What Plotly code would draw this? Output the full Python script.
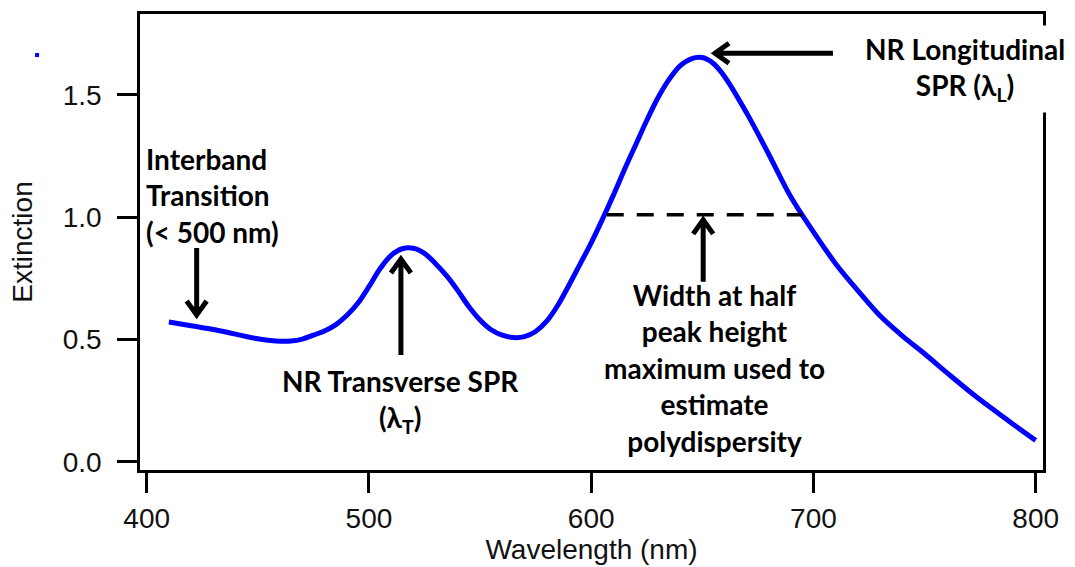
import plotly.graph_objects as go

# Extinction spectrum of gold nanorods
wavelength = [410, 420, 430, 440, 450, 455, 460, 465, 470, 475, 480, 485, 490,
              495, 500, 505, 510, 515, 520, 525, 530, 535, 540, 545, 550, 555,
              560, 565, 570, 575, 580, 585, 590, 595, 600, 605, 610, 615, 620,
              625, 630, 635, 640, 645, 650, 655, 660, 670, 680, 690, 700, 710,
              720, 730, 740, 750, 760, 770, 780, 790, 800]
extinction = [0.572, 0.556, 0.541, 0.522, 0.503, 0.497, 0.493, 0.494, 0.502,
              0.518, 0.535, 0.560, 0.598, 0.648, 0.716, 0.789, 0.844, 0.871,
              0.873, 0.852, 0.810, 0.760, 0.700, 0.634, 0.580, 0.540, 0.518,
              0.508, 0.512, 0.533, 0.575, 0.640, 0.722, 0.808, 0.895, 0.990,
              1.090, 1.195, 1.295, 1.395, 1.487, 1.562, 1.618, 1.647, 1.652,
              1.628, 1.575, 1.425, 1.255, 1.080, 0.940, 0.810, 0.700, 0.597,
              0.515, 0.442, 0.365, 0.290, 0.220, 0.153, 0.088]

# Width-at-half-maximum marker
fwhm_x = [607, 695]
fwhm_y = [1.01, 1.01]

x_ticks = [400, 500, 600, 700, 800]
y_ticks = [0.0, 0.5, 1.0, 1.5]

LABEL_FONT = dict(family="Lato", size=28, color="black")
AXIS_FONT = dict(family="Liberation Sans, Arial", size=28, color="#111111")

fig = go.Figure()
fig.add_trace(go.Scatter(
    x=wavelength, y=extinction, mode="lines",
    line=dict(color="#0000ff", width=5, shape="spline", smoothing=1.0),
    showlegend=False, hoverinfo="skip"))
fig.add_trace(go.Scatter(
    x=fwhm_x, y=fwhm_y, mode="lines",
    line=dict(color="black", width=3.5, dash="17px,13px"),
    showlegend=False, hoverinfo="skip"))


def arrow_path(direction, length, half=10, depth=14):
    """Shaft plus open chevron head, in pixels relative to the tip."""
    if direction == "down":      # tail above the tip
        return (f"M0,{length} L0,3 M{-half},{depth} L0,0 L{half},{depth}")
    if direction == "up":        # tail below the tip
        return (f"M0,{-length} L0,-3 M{-half},{-depth} L0,0 L{half},{-depth}")
    if direction == "left":      # tail to the right of the tip
        return (f"M{length},0 L3,0 M{depth},{half} L0,0 L{depth},{-half}")
    raise ValueError(direction)


# (tip wavelength, tip extinction, pointing direction, shaft length in px)
arrows = [
    (422.5, 0.600, "down", 67),   # interband
    (514.4, 0.829, "up", 96),     # transverse peak
    (655.7, 1.670, "left", 118),  # longitudinal peak
    (650.4, 0.989, "up", 62),     # half-height line
]
for tx, ty, direction, length in arrows:
    fig.add_shape(
        type="path", xref="x", yref="y", xsizemode="pixel",
        ysizemode="pixel", xanchor=tx, yanchor=ty,
        path=arrow_path(direction, length),
        line=dict(color="black", width=5))

fig.add_annotation(
    x=399, y=1.087, xref="x", yref="y", xanchor="left", yanchor="middle",
    align="left", showarrow=False, font=LABEL_FONT,
    text="<b>Interband<br>Transition<br>(&lt; 500 nm)</b>")
fig.add_annotation(
    x=514.3, y=0.247, xref="x", yref="y", xanchor="center", yanchor="middle",
    align="center", showarrow=False, font=LABEL_FONT,
    text="<b>NR Transverse SPR<br>(λ<sub>T</sub>)</b>")
fig.add_annotation(
    x=768.2, y=1.607, xref="x", yref="y", xanchor="center", yanchor="middle",
    align="center", showarrow=False, font=LABEL_FONT,
    bgcolor="white", borderpad=6,
    text="<b>NR Longitudinal<br>SPR (λ<sub>L</sub>)</b>")
fig.add_annotation(
    x=655.7, y=0.383, xref="x", yref="y", xanchor="center", yanchor="middle",
    align="center", showarrow=False, font=LABEL_FONT,
    text="<b>Width at half<br>peak height<br>maximum used to<br>estimate<br>polydispersity</b>")

# small stray symbol left of the axis
fig.add_shape(type="rect", xref="paper", yref="paper",
              xsizemode="pixel", ysizemode="pixel",
              xanchor=-0.114, yanchor=0.91, x0=-2, x1=2, y0=-2, y1=2,
              fillcolor="#0000ff", line=dict(width=0))

fig.update_xaxes(
    range=[397, 803.3], tickvals=x_ticks, ticks="outside", ticklen=20,
    tickwidth=2.5, tickcolor="black", showline=True, linewidth=2.5,
    linecolor="black", mirror=True, showgrid=False, zeroline=False,
    tickfont=AXIS_FONT, ticklabelstandoff=2,
    title=dict(text="Wavelength (nm)", font=AXIS_FONT, standoff=0))
fig.update_yaxes(
    range=[-0.033, 1.83], tickvals=y_ticks, tickformat=".1f", ticks="outside",
    ticklen=20, tickwidth=2.5, tickcolor="black", showline=True,
    linewidth=2.5, linecolor="black", mirror=True, showgrid=False,
    zeroline=False, tickfont=AXIS_FONT, ticklabelstandoff=10,
    title=dict(text="Extinction", font=AXIS_FONT, standoff=22))

fig.update_layout(
    width=1075, height=567, autosize=False,
    margin=dict(l=140, r=32, t=14, b=97),
    paper_bgcolor="white", plot_bgcolor="white")

fig.write_html("out.html")
